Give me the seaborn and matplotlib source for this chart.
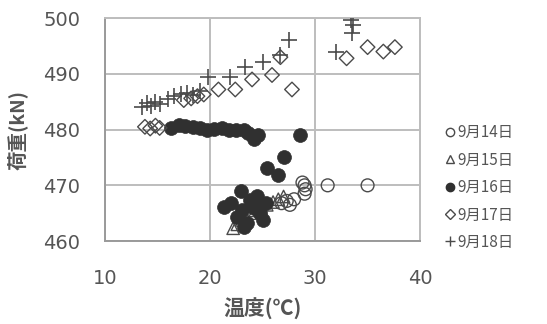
import matplotlib
matplotlib.use("Agg")
import matplotlib.pyplot as plt
import seaborn as sns
import pandas as pd
from matplotlib.lines import Line2D

sns.set_theme(style="white")
plt.rcParams['font.family'] = ['Noto Sans CJK JP', 'DejaVu Sans']

# ---- data ----
t14 = [26.8, 27.3, 27.6, 28.0, 28.8, 29.0, 29.1, 29.0, 31.2, 35.0]
l14 = [466.8, 467.2, 466.5, 467.5, 470.5, 470.0, 469.3, 468.5, 470.0, 470.0]

t15 = [22.2, 22.6, 23.0, 23.4, 23.8, 24.3, 24.8, 25.4, 26.0, 26.5, 27.0]
l15 = [462.3, 463.0, 463.8, 464.3, 465.0, 465.5, 466.0, 466.5, 467.0, 467.5, 468.0]

t16 = [16.3, 17.0, 17.6, 18.4, 19.0, 19.7, 20.4, 21.1, 21.8, 22.5, 23.2, 23.6, 24.2, 24.6,
       28.6, 27.0, 25.4, 26.5,
       22.9, 21.3, 22.0, 22.6, 23.0, 23.5, 23.8, 24.2, 24.5, 24.8, 25.0, 25.3, 23.2]
l16 = [480.3, 480.8, 480.6, 480.5, 480.2, 480.0, 480.1, 480.2, 480.0, 479.9, 480.0, 479.4, 478.4, 479.0,
       479.0, 475.0, 473.1, 471.8,
       469.0, 466.2, 466.8, 464.3, 465.5, 463.2, 467.3, 466.0, 468.0, 465.0, 463.8, 466.8, 462.5]

t17 = [13.8, 14.3, 14.8, 15.2, 17.5, 18.2, 18.8, 19.4, 20.8, 22.4, 24.0, 25.9, 26.7, 27.8,
       33.0, 35.0, 36.5, 37.6]
l17 = [480.5, 480.2, 480.7, 480.3, 485.3, 485.6, 486.0, 486.3, 487.2, 487.2, 489.0, 489.8, 493.0, 487.2,
       492.8, 494.8, 494.0, 494.8]

t18 = [13.5, 14.0, 14.4, 14.8, 15.2, 16.0, 16.6, 17.2, 17.8, 18.4, 19.0, 19.8, 21.9, 23.3,
       25.0, 26.7, 27.5, 32.0, 33.5, 33.6, 33.4]
l18 = [484.0, 484.8, 484.3, 485.0, 484.6, 485.5, 486.0, 486.3, 486.6, 486.2, 487.0, 489.4, 489.4, 491.2,
       492.1, 493.4, 496.0, 494.0, 497.4, 498.8, 499.7]

labels = ["9月14日", "9月15日", "9月16日", "9月17日", "9月18日"]
xticks = [10, 20, 30, 40]
yticks = [460, 470, 480, 490, 500]

fig = plt.figure(figsize=(5.47, 3.24), dpi=100)
ax = fig.add_axes([0.192, 0.256, 0.576, 0.688])

gray = "#4a4a4a"
dark = "#303030"
series = [
    (t14, l14, dict(marker="o", facecolor="none", edgecolor=gray, linewidth=1.0, s=85)),
    (t15, l15, dict(marker="^", facecolor="none", edgecolor=gray, linewidth=1.0, s=80)),
    (t16, l16, dict(marker="o", color=dark, edgecolor=dark, linewidth=0.5, s=100)),
    (t17, l17, dict(marker="D", facecolor="none", edgecolor=gray, linewidth=1.0, s=55)),
    (t18, l18, dict(marker="+", color=gray, linewidth=1.2, s=120)),
]
for (tx, ly, kw), lab in zip(series, labels):
    df = pd.DataFrame({"t": tx, "l": ly})
    sns.scatterplot(data=df, x="t", y="l", ax=ax, legend=False, zorder=3, **kw)

ax.set_xlim(10, 40)
ax.set_ylim(460, 500)
ax.set_xticks(xticks)
ax.set_yticks(yticks)
ax.grid(True, color="#bdbdbd", linewidth=1.4)
ax.set_axisbelow(True)
for sp in ax.spines.values():
    sp.set_color("#bdbdbd")
    sp.set_linewidth(1.4)
ax.spines["left"].set_color("#9a9a9a")
ax.spines["bottom"].set_color("#9a9a9a")
ax.tick_params(axis="both", direction="out", length=4, width=1.2, color="#9a9a9a",
               labelsize=14, labelcolor="#555555")
ax.tick_params(axis="y", pad=14)
ax.tick_params(axis="x", pad=16)
for lab in ax.get_xticklabels() + ax.get_yticklabels():
    lab.set_family("DejaVu Sans")
ax.set_xlabel("温度(℃)", fontsize=15, fontweight="bold", color="#555555", labelpad=7)
ax.set_ylabel("荷重(kN)", fontsize=14, fontweight="bold", color="#555555", labelpad=11)

handles = [
    Line2D([], [], marker="o", linestyle="none", markerfacecolor="none", markeredgecolor=gray, markersize=6),
    Line2D([], [], marker="^", linestyle="none", markerfacecolor="none", markeredgecolor=gray, markersize=6),
    Line2D([], [], marker="o", linestyle="none", markerfacecolor=dark, markeredgecolor=dark, markersize=6),
    Line2D([], [], marker="D", linestyle="none", markerfacecolor="none", markeredgecolor=gray, markersize=5),
    Line2D([], [], marker="+", linestyle="none", color=gray, markersize=7),
]
leg = fig.legend(handles, labels, loc="upper left", bbox_to_anchor=(0.800, 0.640),
                 frameon=False, fontsize=11, handlelength=0.6, handletextpad=0.2,
                 labelspacing=0.68, borderpad=0)
for t in leg.get_texts():
    t.set_color("#555555")

fig.savefig("out.png", dpi=100)
